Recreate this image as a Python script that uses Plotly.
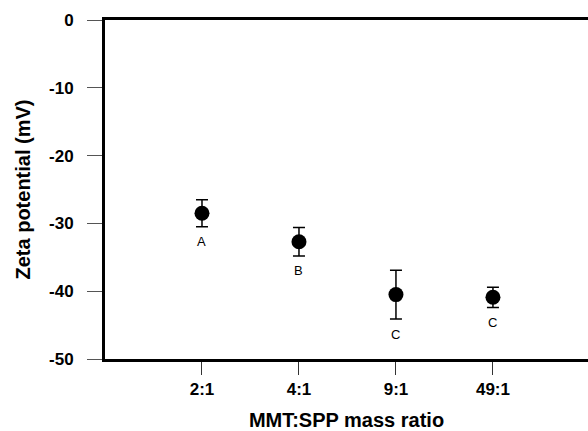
import plotly.graph_objects as go

categories = ["2:1", "4:1", "9:1", "49:1"]
positions = [1, 2, 3, 4]
zeta = [-28.5, -32.7, -40.5, -40.9]
err = [2.0, 2.1, 3.6, 1.5]
letters = ["A", "B", "C", "C"]
yticks = [0, -10, -20, -30, -40, -50]

fig = go.Figure()
fig.add_trace(go.Scatter(
    x=positions, y=zeta, mode="markers",
    marker=dict(size=15, color="black"),
    error_y=dict(type="data", array=err, visible=True, color="black", thickness=1.5, width=6),
    showlegend=False, hoverinfo="skip",
))

for xp, yv, e, lt in zip(positions, zeta, err, letters):
    fig.add_annotation(x=xp, y=yv - e, text=lt, showarrow=False, yshift=-15,
                       yanchor="middle", font=dict(family="Liberation Sans, Arial", size=13, color="black"))

fig.update_layout(
    width=588, height=431,
    margin=dict(l=105, r=0, t=20, b=72),
    plot_bgcolor="white", paper_bgcolor="white",
    font=dict(family="Liberation Sans, Arial", color="black"),
)
fig.update_xaxes(
    range=[0, 4.98], tickvals=positions, ticktext=categories,
    showgrid=False, zeroline=False,
    showline=True, linecolor="black", linewidth=3, mirror=True,
    ticks="outside", ticklen=13, tickwidth=1, tickcolor="#333",
    tickfont=dict(size=17, family="Liberation Sans, Arial", weight="bold"),
    title=dict(text="MMT:SPP mass ratio", font=dict(size=20, weight="bold"), standoff=16),
)
fig.update_yaxes(
    range=[-50, 0], tickvals=yticks, ticktext=[str(v) for v in yticks],
    showgrid=False, zeroline=False,
    showline=True, linecolor="black", linewidth=3,
    ticks="outside", ticklen=15, tickwidth=1, tickcolor="#555",
    ticklabelstandoff=10,
    tickfont=dict(size=17, family="Liberation Sans, Arial", weight="bold"),
    title=dict(text="Zeta potential (mV)", font=dict(size=20, weight="bold"), standoff=14),
)
fig.write_html("out.html", config={"displayModeBar": False},
               post_script="document.body.style.margin='0px';document.body.style.overflow='hidden';")
